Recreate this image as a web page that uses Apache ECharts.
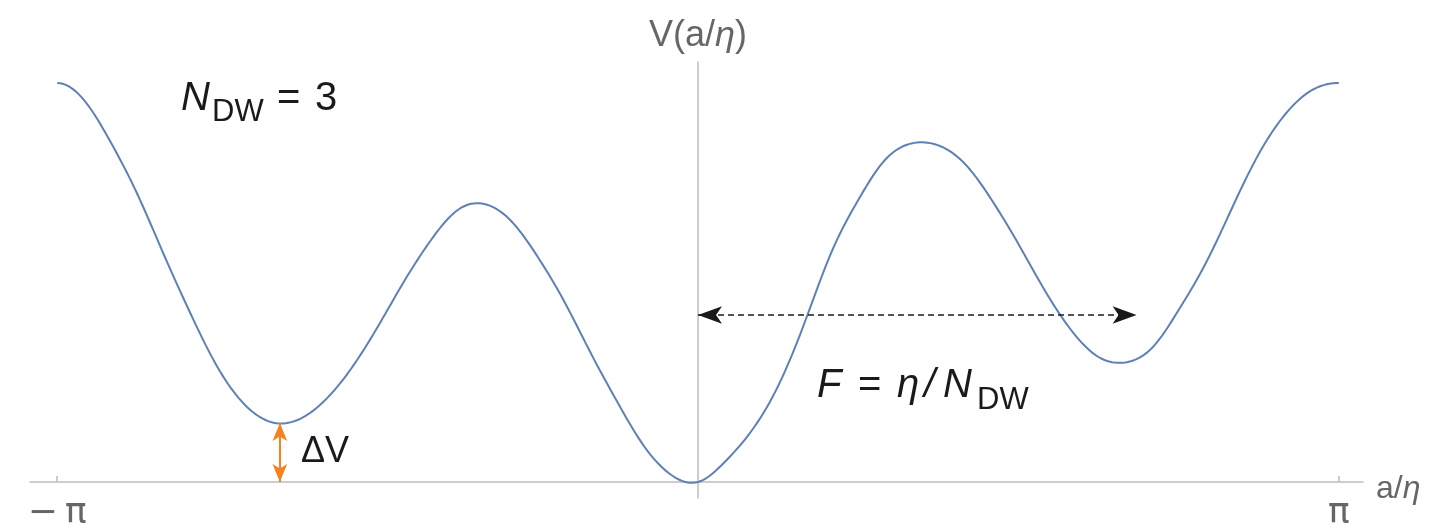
<!DOCTYPE html>
<html>
<head>
<meta charset="utf-8">
<script src="https://cdn.jsdelivr.net/npm/echarts@6/dist/echarts.min.js"></script>
<style>
  html, body { margin: 0; padding: 0; background: #ffffff; }
  #chart { width: 1429px; height: 525px; }
</style>
</head>
<body>
<div id="chart"></div>
<script>
// Field value a/η, sampled every π/24 across one period
const stepIndex = [-24, -23, -22, -21, -20, -19, -18, -17, -16, -15, -14, -13, -12,
  -11, -10, -9, -8, -7, -6, -5, -4, -3, -2, -1, 0, 1, 2, 3, 4, 5, 6, 7, 8, 9, 10,
  11, 12, 13, 14, 15, 16, 17, 18, 19, 20, 21, 22, 23, 24];
const aOverEta = stepIndex.map(k => k * Math.PI / 24);

// Potential V(a/η) at those points (three vacua, tilted by the bias term)
const potential = [
  1.995, 1.91, 1.70, 1.44, 1.135, 0.84, 0.575, 0.39, 0.30, 0.31, 0.405, 0.565,
  0.775, 1.005, 1.21, 1.36, 1.39, 1.305, 1.125, 0.90, 0.64, 0.395, 0.175, 0.035,
  0,
  0.10, 0.255, 0.48, 0.80, 1.15, 1.41, 1.61, 1.693, 1.683, 1.59, 1.41, 1.19,
  0.955, 0.755, 0.625, 0.598, 0.67, 0.86, 1.09, 1.37, 1.64, 1.84, 1.96, 1.995
];

// Axis ticks and their labels
const tickValues = [-Math.PI, Math.PI];
const tickLabels = ['\u2212\u2009\u03c0', '\u03c0'];

// Annotations: field range spanned by one wall, and the vacuum energy gap
const wallSpan = { from: 0, to: 2.15, level: 0.835 };
const gap = { at: -2.05, low: 0, high: 0.295 };

const FONT = '"Liberation Sans", Arial, Helvetica, sans-serif';
const AXIS_GREY = '#bdbdbd';
const LABEL_GREY = '#666666';
const INK = '#1a1a1a';
const CURVE_BLUE = '#5e81b5';

const points = aOverEta.map((x, i) => [x, potential[i]]);

// Clamped cubic spline through pixel points (flat tangent at both ends,
// where the periodic potential has its maxima), returned as a dense polyline.
function splinePolyline(pix, samplesPerGap) {
  const n = pix.length;
  const xs = pix.map(p => p[0]);
  const ys = pix.map(p => p[1]);
  const h = [];
  for (let i = 0; i < n - 1; i++) h.push(xs[i + 1] - xs[i]);
  const a = new Array(n).fill(0), b = new Array(n).fill(0),
        c = new Array(n).fill(0), d = new Array(n).fill(0);
  b[0] = 2 * h[0]; c[0] = h[0];
  d[0] = 6 * ((ys[1] - ys[0]) / h[0]);
  for (let i = 1; i < n - 1; i++) {
    a[i] = h[i - 1];
    b[i] = 2 * (h[i - 1] + h[i]);
    c[i] = h[i];
    d[i] = 6 * ((ys[i + 1] - ys[i]) / h[i] - (ys[i] - ys[i - 1]) / h[i - 1]);
  }
  a[n - 1] = h[n - 2]; b[n - 1] = 2 * h[n - 2];
  d[n - 1] = 6 * (0 - (ys[n - 1] - ys[n - 2]) / h[n - 2]);
  // Thomas algorithm
  for (let i = 1; i < n; i++) {
    const m = a[i] / b[i - 1];
    b[i] -= m * c[i - 1];
    d[i] -= m * d[i - 1];
  }
  const M = new Array(n).fill(0);
  M[n - 1] = d[n - 1] / b[n - 1];
  for (let i = n - 2; i >= 0; i--) M[i] = (d[i] - c[i] * M[i + 1]) / b[i];
  const out = [];
  for (let i = 0; i < n - 1; i++) {
    const hi = h[i];
    for (let s = 0; s < samplesPerGap; s++) {
      const x = xs[i] + hi * s / samplesPerGap;
      const A = xs[i + 1] - x, B = x - xs[i];
      const y = M[i] * A * A * A / (6 * hi) + M[i + 1] * B * B * B / (6 * hi)
        + (ys[i] - M[i] * hi * hi / 6) * A / hi
        + (ys[i + 1] - M[i + 1] * hi * hi / 6) * B / hi;
      out.push([x, y]);
    }
  }
  out.push([xs[n - 1], ys[n - 1]]);
  return out;
}

const chart = echarts.init(document.getElementById('chart'), null, { renderer: 'canvas' });

chart.setOption({
  animation: false,
  backgroundColor: '#ffffff',
  grid: { left: 30, right: 66, top: 62, bottom: 27, containLabel: false, outerBoundsMode: 'none' },
  xAxis: {
    type: 'value',
    min: -3.275,
    max: 3.26,
    name: 'a/{i|\u03b7}',
    nameLocation: 'end',
    nameGap: 13,
    nameTextStyle: {
      color: LABEL_GREY, fontFamily: FONT, fontSize: 32, verticalAlign: 'middle',
      padding: [14, 0, 0, 0],
      rich: { i: { fontStyle: 'italic', color: LABEL_GREY, fontFamily: FONT, fontSize: 32 } }
    },
    axisLine: { show: true, onZero: true, lineStyle: { color: AXIS_GREY, width: 1.5 } },
    axisTick: {
      show: true, inside: true, length: 6, customValues: tickValues,
      lineStyle: { color: AXIS_GREY, width: 1.5 }
    },
    axisLabel: {
      show: true, customValues: tickValues, margin: 16, verticalAlign: 'middle',
      color: LABEL_GREY, fontFamily: '"DejaVu Sans", ' + FONT, fontSize: 36,
      formatter: v => tickLabels[v < 0 ? 0 : 1]
    },
    splitLine: { show: false }
  },
  yAxis: {
    type: 'value',
    min: -0.08,
    max: 2.1,
    name: 'V(a/{i|\u03b7})',
    nameLocation: 'end',
    nameGap: 26,
    nameTextStyle: {
      color: LABEL_GREY, fontFamily: FONT, fontSize: 36, align: 'center', verticalAlign: 'middle',
      rich: { i: { fontStyle: 'italic', color: LABEL_GREY, fontFamily: FONT, fontSize: 36 } }
    },
    axisLine: { show: true, onZero: true, lineStyle: { color: AXIS_GREY, width: 1.5 } },
    axisTick: { show: false },
    axisLabel: { show: false },
    splitLine: { show: false }
  },
  series: [
    {
      // the potential curve, drawn as a spline through the sampled points
      type: 'custom',
      coordinateSystem: 'cartesian2d',
      data: points,
      encode: { x: 0, y: 1 },
      silent: true,
      renderItem: (params, api) => {
        if (params.dataIndex !== 0) return null;
        const pix = points.map(p => api.coord(p));
        return {
          type: 'polyline',
          shape: { points: splinePolyline(pix, 10) },
          style: { stroke: CURVE_BLUE, lineWidth: 2, fill: 'none', lineJoin: 'round' }
        };
      }
    },
    {
      // annotation arrows
      type: 'line',
      data: [],
      silent: true,
      markLine: {
        silent: true,
        animation: false,
        label: { show: false },
        emphasis: { disabled: true },
        data: [
          [
            {
              coord: [wallSpan.from, wallSpan.level],
              symbol: 'arrow', symbolSize: [13, 24],
              lineStyle: { color: INK, width: 1.5, type: [6, 4] },
              itemStyle: { color: INK }
            },
            {
              coord: [wallSpan.to, wallSpan.level],
              symbol: 'arrow', symbolSize: [13, 24]
            }
          ],
          [
            {
              coord: [gap.at, gap.low],
              symbol: 'arrow', symbolSize: [11, 18],
              lineStyle: { color: '#f5821f', width: 2, type: 'solid' },
              itemStyle: { color: '#f5821f' }
            },
            {
              coord: [gap.at, gap.high],
              symbol: 'arrow', symbolSize: [11, 18]
            }
          ]
        ]
      }
    }
  ],
  graphic: [
    // N_DW = 3
    { type: 'text', x: 181, y: 99, style: { text: 'N', font: 'italic 40px ' + FONT, fill: INK, align: 'left', verticalAlign: 'middle' } },
    { type: 'text', x: 212, y: 112, style: { text: 'DW', font: '31px ' + FONT, fill: INK, align: 'left', verticalAlign: 'middle' } },
    { type: 'text', x: 277, y: 99, style: { text: '=', font: '40px ' + FONT, fill: INK, align: 'left', verticalAlign: 'middle' } },
    { type: 'text', x: 315, y: 99, style: { text: '3', font: '40px ' + FONT, fill: INK, align: 'left', verticalAlign: 'middle' } },
    // ΔV
    { type: 'text', x: 301, y: 452, style: { text: '\u0394V', font: '36px ' + FONT, fill: INK, align: 'left', verticalAlign: 'middle' } },
    // F = η / N_DW
    { type: 'text', x: 817, y: 386, style: { text: 'F', font: 'italic 40px ' + FONT, fill: INK, align: 'left', verticalAlign: 'middle' } },
    { type: 'text', x: 858, y: 386, style: { text: '=', font: '40px ' + FONT, fill: INK, align: 'left', verticalAlign: 'middle' } },
    { type: 'text', x: 897, y: 386, style: { text: '\u03b7', font: 'italic 40px ' + FONT, fill: INK, align: 'left', verticalAlign: 'middle' } },
    { type: 'text', x: 924, y: 386, style: { text: '/', font: 'italic 40px ' + FONT, fill: INK, align: 'left', verticalAlign: 'middle' } },
    { type: 'text', x: 943, y: 386, style: { text: 'N', font: 'italic 40px ' + FONT, fill: INK, align: 'left', verticalAlign: 'middle' } },
    { type: 'text', x: 977, y: 400, style: { text: 'DW', font: '31px ' + FONT, fill: INK, align: 'left', verticalAlign: 'middle' } }
  ]
});
</script>
</body>
</html>
